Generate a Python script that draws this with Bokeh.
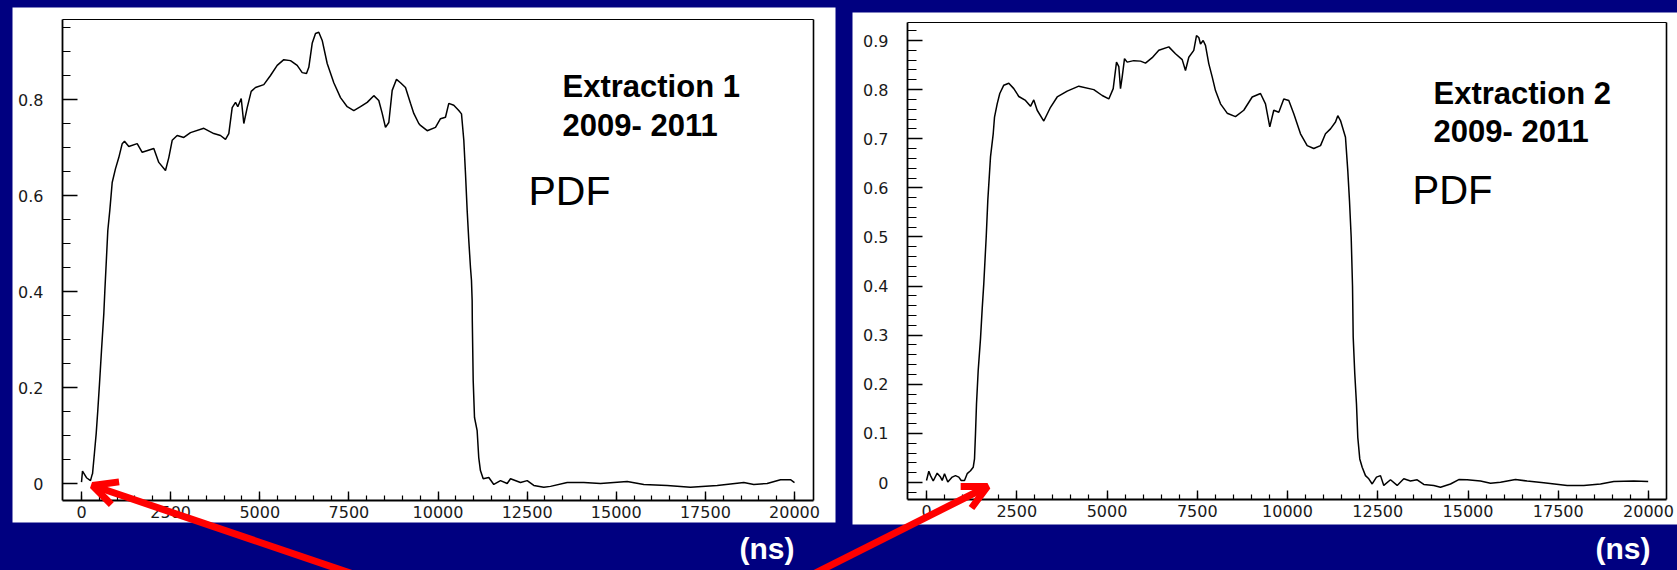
import numpy as np
from bokeh.plotting import figure
from bokeh.models import (Range1d, LinearAxis, FixedTicker, Arrow, OpenHead, Label,
                          BoxAnnotation, GlobalInlineStyleSheet)
from bokeh.embed import file_html
from bokeh.resources import INLINE

# ------------------------------------------------------------------ data
# Extraction 1 (2009-2011): time (ns) and PDF value
t1 = [0, 28, 140, 252, 300, 309, 365, 412, 457, 505, 561, 626, 654, 701, 738, 794,
      861, 954, 1046, 1142, 1206, 1327, 1562, 1703, 2028, 2168, 2356, 2449, 2544,
      2684, 2870, 3057, 3431, 3711, 3899, 4039, 4132, 4227, 4320, 4384, 4480, 4553,
      4648, 4760, 4881, 5114, 5301, 5489, 5675, 5862, 6050, 6191, 6311, 6376, 6471,
      6564, 6656, 6752, 6892, 7077, 7265, 7453, 7638, 7826, 8014, 8199, 8339, 8435,
      8527, 8620, 8715, 8836, 8948, 9088, 9228, 9321, 9461, 9509, 9697, 9930, 10070,
      10210, 10303, 10443, 10583, 10659, 10724, 10771, 10818, 10864, 10911, 10939,
      10958, 10962, 10987, 11024, 11098, 11143, 11190, 11268, 11425, 11565, 11753,
      11941, 12034, 12314, 12502, 12687, 12968, 13155, 13624, 14090, 14558, 15307,
      15773, 16429, 17082, 17832, 18578, 18858, 19234, 19607, 19887, 20000]
v1 = [0.003, 0.026, 0.012, 0.006, 0.019, 0.020, 0.065, 0.104, 0.152, 0.208, 0.277,
      0.354, 0.400, 0.471, 0.527, 0.569, 0.627, 0.656, 0.679, 0.708, 0.713, 0.702,
      0.708, 0.690, 0.698, 0.669, 0.652, 0.679, 0.715, 0.725, 0.721, 0.731, 0.740,
      0.729, 0.725, 0.717, 0.729, 0.783, 0.794, 0.785, 0.802, 0.750, 0.783, 0.817,
      0.825, 0.831, 0.850, 0.871, 0.883, 0.881, 0.871, 0.856, 0.854, 0.867, 0.917,
      0.9375, 0.940, 0.923, 0.875, 0.835, 0.804, 0.785, 0.777, 0.785, 0.794, 0.808,
      0.798, 0.771, 0.742, 0.752, 0.819, 0.842, 0.835, 0.825, 0.792, 0.771, 0.750,
      0.746, 0.735, 0.742, 0.760, 0.763, 0.792, 0.788, 0.777, 0.770, 0.715, 0.646,
      0.569, 0.506, 0.450, 0.423, 0.381, 0.340, 0.215, 0.1375, 0.110, 0.054, 0.027,
      0.010, 0.0125, -0.002, 0.006, 0.000, 0.010, 0.002, 0.006, -0.004, -0.008,
      -0.006, 0.002, 0.002, 0.000, 0.004, -0.002, -0.004, -0.008, -0.004, 0.002,
      -0.002, 0.000, 0.008, 0.008, 0.002]

# Extraction 2 (2009-2011)
t2 = [0, 64, 111, 186, 296, 388, 435, 499, 590, 712, 803, 895, 961, 1053, 1127,
      1219, 1294, 1330, 1357, 1385, 1432, 1496, 1543, 1587, 1654, 1698, 1773, 1848,
      1884, 1958, 2030, 2141, 2280, 2418, 2557, 2742, 2881, 2972, 3066, 3249, 3435,
      3620, 3897, 4219, 4634, 4867, 5050, 5172, 5263, 5327, 5374, 5421, 5485, 5559,
      5742, 5928, 6066, 6252, 6435, 6712, 6897, 7083, 7174, 7266, 7404, 7479, 7543,
      7590, 7664, 7728, 7819, 7914, 8005, 8144, 8329, 8559, 8789, 9022, 9252, 9390,
      9509, 9620, 9759, 9897, 10036, 10174, 10360, 10545, 10728, 10914, 11052, 11191,
      11329, 11393, 11468, 11606, 11670, 11717, 11764, 11801, 11820, 11864, 11911,
      11947, 12002, 12069, 12160, 12252, 12346, 12465, 12576, 12667, 12853, 13038,
      13221, 13407, 13592, 13775, 14052, 14238, 14515, 14745, 14977, 15346, 15623,
      15900, 16315, 16639, 17099, 17747, 18207, 18670, 19038, 19592, 19991]
v2 = [0.004, 0.023, 0.014, 0.003, 0.019, 0.011, 0.004, 0.018, 0.001, 0.011, 0.014,
      0.011, 0.004, 0.004, 0.018, 0.024, 0.031, 0.048, 0.099, 0.160, 0.228, 0.293,
      0.354, 0.405, 0.500, 0.574, 0.663, 0.710, 0.744, 0.771, 0.792, 0.809, 0.813,
      0.802, 0.786, 0.778, 0.766, 0.779, 0.758, 0.736, 0.764, 0.785, 0.797, 0.807,
      0.800, 0.788, 0.781, 0.802, 0.856, 0.847, 0.802, 0.826, 0.863, 0.856, 0.859,
      0.858, 0.854, 0.865, 0.880, 0.887, 0.873, 0.861, 0.839, 0.866, 0.880, 0.910,
      0.906, 0.893, 0.900, 0.890, 0.853, 0.826, 0.798, 0.771, 0.752, 0.745, 0.758,
      0.785, 0.792, 0.771, 0.724, 0.758, 0.754, 0.781, 0.778, 0.751, 0.710, 0.686,
      0.680, 0.686, 0.710, 0.720, 0.734, 0.747, 0.737, 0.703, 0.635, 0.574, 0.500,
      0.400, 0.296, 0.221, 0.160, 0.092, 0.048, 0.031, 0.014, 0.0075, -0.003, 0.011,
      0.014, -0.006, 0.0055, -0.006, 0.0075, 0.003, 0.0055, -0.004, -0.006, -0.0095,
      -0.003, 0.006, 0.0055, 0.003, -0.0014, 0.0006, 0.006, 0.003, -0.0006, -0.006,
      -0.006, -0.003, 0.002, 0.003, 0.002]

x_ticks = [0, 2500, 5000, 7500, 10000, 12500, 15000, 17500, 20000]
x_tick_labels = ["0", "2500", "5000", "7500", "10000", "12500", "15000", "17500", "20000"]
y1_ticks = [0, 0.2, 0.4, 0.6, 0.8]
y1_tick_labels = ["0", "0.2", "0.4", "0.6", "0.8"]
y2_ticks = [0, 0.1, 0.2, 0.3, 0.4, 0.5, 0.6, 0.7, 0.8, 0.9]
y2_tick_labels = ["0", "0.1", "0.2", "0.3", "0.4", "0.5", "0.6", "0.7", "0.8", "0.9"]
title1 = ["Extraction 1", "2009- 2011"]
title2 = ["Extraction 2", "2009- 2011"]
pdf_text = "PDF"
unit_text = "(ns)"

# ------------------------------------------------------------------ layout
NAVY = "#000080"
W, H = 1677, 570
OX, OY = 0, 0          # Bokeh's page template has no body margin

p = figure(width=W, height=H,
           x_range=Range1d(OX, OX + W), y_range=Range1d(OY + H, OY),
           x_axis_type=None, y_axis_type=None,
           output_backend="svg", toolbar_location=None, min_border=0,
           background_fill_color=NAVY, border_fill_color=NAVY,
           outline_line_color=None)
p.stylesheets = [GlobalInlineStyleSheet(css="html, body { background-color: #000080; }")]


def lin(pa, va, pb, vb):
    k = (vb - va) / (pb - pa)
    return lambda P: va + (P - pa) * k


FONT_TICK = "DejaVu Sans"


def panel(name, box, frame, xcal, ycal, t, v, yticks, ylabels, yminor, y_major_len, y_minor_len):
    bl, br, bt, bb = box
    fl, fr, ft, fb = frame
    fx = lin(*xcal)
    fy = lin(*ycal)
    xn, yn = "x" + name, "y" + name
    p.extra_x_ranges[xn] = Range1d(fx(OX), fx(OX + W))
    p.extra_y_ranges[yn] = Range1d(fy(OY + H), fy(OY))
    xb = (fx(fl), fx(fr))
    yb = (fy(fb), fy(ft))

    p.add_layout(BoxAnnotation(left=bl, right=br, top=bt, bottom=bb, fill_color="white",
                               fill_alpha=1, line_color=None, level="underlay"))

    common = dict(x_range_name=xn, y_range_name=yn, axis_line_color="black",
                  major_tick_line_color="black", minor_tick_line_color="black",
                  major_tick_line_width=1.4, minor_tick_line_width=1.2,
                  major_tick_out=0, minor_tick_out=0,
                  major_label_text_font=FONT_TICK, major_label_text_font_size="16px",
                  major_label_text_color="#1a1a1a")

    xa = LinearAxis(fixed_location=yb[0], bounds=xb,
                    ticker=FixedTicker(ticks=x_ticks, minor_ticks=list(np.arange(0, 20001, 500))),
                    major_label_overrides=dict(zip(x_ticks, x_tick_labels)),
                    major_tick_in=9, minor_tick_in=5, major_label_standoff=5,
                    axis_line_width=1.8, **common)
    p.add_layout(xa, "below")
    ya = LinearAxis(fixed_location=xb[0], bounds=yb,
                    ticker=FixedTicker(ticks=yticks, minor_ticks=yminor),
                    major_label_overrides=dict(zip(yticks, ylabels)),
                    major_tick_in=y_major_len, minor_tick_in=y_minor_len,
                    major_label_standoff=19, axis_line_width=1.8, **common)
    p.add_layout(ya, "left")
    # frame top / right edges
    top = LinearAxis(fixed_location=yb[1], bounds=xb, ticker=FixedTicker(ticks=[]),
                     axis_line_width=1.2, **common)
    p.add_layout(top, "above")
    right = LinearAxis(fixed_location=xb[1], bounds=yb, ticker=FixedTicker(ticks=[]),
                       axis_line_width=1.6, **common)
    p.add_layout(right, "right")

    p.line(t, v, x_range_name=xn, y_range_name=yn, line_color="black", line_width=1.5)


panel("1", (12, 835, 7, 522), (62, 813, 19, 500), (81, 0, 794, 20000), (483, 0, 99, 0.8),
      t1, v1, y1_ticks, y1_tick_labels, [round(k * 0.05, 2) for k in range(0, 20)], 15, 8)
panel("2", (852, 1677, 12, 524), (907, 1666, 22, 499), (926, 0, 1648, 20000), (482, 0, 40, 0.9),
      t2, v2, y2_ticks, y2_tick_labels, [round(k * 0.02, 2) for k in range(-1, 47)], 15, 9)

# ------------------------------------------------------------------ texts
# Label y is the nominal baseline; Bokeh draws ~12px lower, hence the offset
BASE_SHIFT = 12


def txt(x, y, s, size, bold=False, color="black"):
    p.add_layout(Label(x=x, y=y - BASE_SHIFT, text=s, text_font="Liberation Sans",
                       text_font_style="bold" if bold else "normal",
                       text_font_size=size, text_color=color, text_baseline="alphabetic"))


txt(562, 98, title1[0], "31px", bold=True)
txt(562, 137, title1[1], "31px", bold=True)
txt(528, 202, pdf_text, "41px")
txt(1433, 105, title2[0], "31px", bold=True)
txt(1433, 143, title2[1], "31px", bold=True)
txt(1412, 201, pdf_text, "40px")
txt(739, 560, unit_text, "30px", bold=True, color="white")
txt(1595, 560, unit_text, "30px", bold=True, color="white")

# ------------------------------------------------------------------ arrows
for xs, ys, xe, ye in [(357, 575, 92, 485), (810, 575, 987, 486)]:
    p.add_layout(Arrow(x_start=xs, y_start=ys, x_end=xe, y_end=ye,
                       line_color="red", line_width=7,
                       end=OpenHead(size=24, line_color="red", line_width=7)))

open("out.html", "w").write(file_html(p, INLINE))
